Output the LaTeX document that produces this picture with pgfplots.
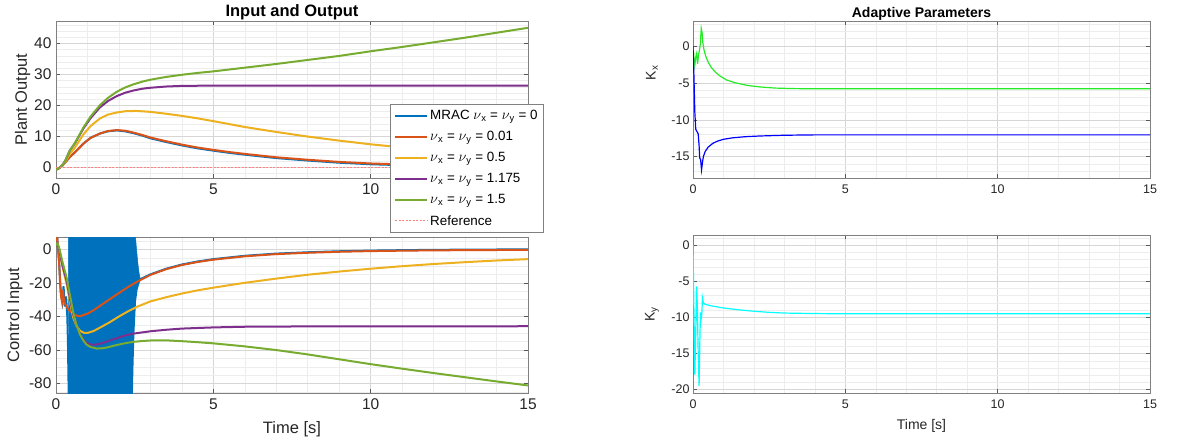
\documentclass[border=0pt]{standalone}
\usepackage{pgfplots}
\pgfplotsset{compat=1.18}
\usepackage{fontspec}
\setmainfont{Liberation Sans}
\definecolor{mblue}{rgb}{0,0.447,0.741}
\definecolor{morange}{rgb}{0.85,0.325,0.098}
\definecolor{myellow}{rgb}{0.929,0.694,0.125}
\definecolor{mpurple}{rgb}{0.494,0.184,0.556}
\definecolor{mgreen}{rgb}{0.466,0.674,0.188}
\definecolor{refred}{rgb}{1,0.5,0.5}
\definecolor{kgreen}{rgb}{0.15,0.92,0.15}
\definecolor{kblue}{rgb}{0,0,1}
\definecolor{kcyan}{rgb}{0,1,1}
\pgfplotsset{
  mstyle/.style={
    scale only axis, xmin=0, xmax=15,
    axis line style={black!50, line width=0.6pt},
    tick style={black!65, line width=0.5pt},
    major tick length=4pt, minor tick length=0pt, tick align=inside,
    grid=both,
    major grid style={black!16, line width=0.5pt},
    minor grid style={black!7, line width=0.5pt},
    xtick={0,5,10,15},
    minor xtick={1,2,3,4,6,7,8,9,11,12,13,14},
    /pgf/number format/assume math mode=true,
    ticklabel style={text=black!85},
    label style={text=black!85},
    every axis title shift=0pt,
  },
  leftstyle/.style={mstyle, width=472pt,
    ticklabel style={font=\fontsize{15.5}{17}\selectfont},
    xticklabel style={yshift=-2pt},
    yticklabel style={xshift=-1pt},
    label style={font=\fontsize{16.5}{18}\selectfont},
    every axis plot/.append style={line width=2pt},
  },
  rightstyle/.style={mstyle, width=457pt,
    ticklabel style={font=\fontsize{12.5}{14}\selectfont},
    xticklabel style={yshift=-3pt},
    label style={font=\fontsize{14}{16}\selectfont},
    every axis plot/.append style={line width=1.2pt},
  },
}
\begin{document}
\begin{tikzpicture}[x=1pt,y=1pt]
\useasboundingbox (0,0) rectangle (1182,445);

% ---------------- top left: plant output
\begin{axis}[leftstyle, at={(56pt,267pt)}, anchor=south west, height=157pt,
  ymin=-3.5, ymax=47.3, ytick={0,10,20,30,40},
  minor ytick={-2,2,4,6,8,12,14,16,18,22,24,26,28,32,34,36,38,42,44,46},
  title={Input and Output},
  title style={font=\bfseries\fontsize{16.5}{18}\selectfont, at={(0.5,1)}, anchor=base, yshift=4.3pt},
  ylabel={Plant Output},
  ylabel style={at={(axis description cs:-0.071,0.5)}, anchor=center},
  legend style={at={(0.7076,0.471)}, anchor=north west, draw=black!50, fill=white,
    line width=0.5pt, font=\fontsize{13.4}{15}\selectfont, row sep=6.2pt,
    inner xsep=4pt, inner ysep=4pt},
  legend cell align=left,
  legend image code/.code={\draw[#1] (0pt,0pt) -- (32pt,0pt);},
]
\addplot[mblue] coordinates {(0,-0.8) (0.1,-0.3) (0.2,0.5) (0.3,1.6) (0.44,3.3) (0.6,4.8) (0.87,7.6) (1.1,9.5) (1.4,10.9) (1.65,11.6) (1.93,11.9) (2.2,11.6) (2.46,11.0) (2.75,10.2) (3.0,9.35) (3.5,8.15) (4.0,7.05) (4.5,6.1) (5,5.35) (5.5,4.65) (6,4.05) (7,2.95) (8,2.15) (9,1.45) (10,0.95) (11,0.65) (12,0.45) (13,0.3) (14,0.2) (15,0.1)};
\addlegendentry{MRAC $\nu$\textsubscript{x} = $\nu$\textsubscript{y} = 0}
\addplot[morange] coordinates {(0,-0.8) (0.1,-0.3) (0.2,0.5) (0.3,1.6) (0.44,3.3) (0.6,4.8) (0.87,7.6) (1.1,9.5) (1.4,10.9) (1.65,11.7) (1.93,12.0) (2.2,11.8) (2.46,11.2) (2.75,10.4) (3.0,9.6) (3.5,8.4) (4.0,7.3) (4.5,6.35) (5,5.6) (5.5,4.9) (6,4.3) (7,3.2) (8,2.4) (9,1.7) (10,1.2) (11,0.9) (12,0.65) (13,0.5) (14,0.37) (15,0.27)};
\addlegendentry{$\nu$\textsubscript{x} = $\nu$\textsubscript{y} = 0.01}
\addplot[myellow] coordinates {(0,-0.8) (0.1,-0.3) (0.2,0.5) (0.3,1.8) (0.44,4.3) (0.6,6.3) (0.87,10.6) (1.1,13.3) (1.4,15.8) (1.65,17.0) (1.93,17.7) (2.2,18.1) (2.56,18.2) (3.0,17.9) (3.5,17.3) (4.0,16.6) (4.5,15.8) (5,14.9) (6,13.0) (7,11.4) (8,9.9) (9,8.6) (10,7.4) (11,6.4) (12,5.6) (13,4.9) (14,4.2) (15,3.7)};
\addlegendentry{$\nu$\textsubscript{x} = $\nu$\textsubscript{y} = 0.5}
\addplot[mpurple] coordinates {(0,-0.8) (0.1,-0.3) (0.2,0.6) (0.3,2.2) (0.44,5.4) (0.6,7.7) (0.87,12.5) (1.1,15.9) (1.4,19.4) (1.65,21.4) (1.93,23.0) (2.2,24.1) (2.46,24.8) (2.75,25.4) (3.0,25.7) (3.5,26.1) (4.0,26.3) (5,26.4) (15,26.4)};
\addlegendentry{$\nu$\textsubscript{x} = $\nu$\textsubscript{y} = 1.175}
\addplot[mgreen] coordinates {(0,-0.8) (0.1,-0.3) (0.2,0.6) (0.3,2.2) (0.44,5.4) (0.6,7.8) (0.87,12.8) (1.1,16.4) (1.4,20.1) (1.65,22.4) (1.93,24.4) (2.2,25.8) (2.46,26.8) (2.75,27.7) (3.0,28.3) (3.5,29.2) (4.0,29.9) (4.5,30.5) (5,31.0) (6,32.2) (7,33.4) (8,34.7) (9,36.0) (10,37.5) (11,38.9) (12,40.4) (13,41.9) (14,43.5) (15,45.1)};
\addlegendentry{$\nu$\textsubscript{x} = $\nu$\textsubscript{y} = 1.5}
\addplot[refred, line width=1pt, dash pattern=on 2pt off 1.5pt] coordinates {(0,0) (15,0)};
\addlegendentry{Reference}
\end{axis}

% ---------------- bottom left: control input
\begin{axis}[leftstyle, at={(56pt,52pt)}, anchor=south west, height=156pt,
  ymin=-85.6, ymax=7.4, ytick={-80,-60,-40,-20,0},
  minor ytick={-85,-75,-70,-65,-55,-50,-45,-35,-30,-25,-15,-10,-5,5},
  xlabel={Time [s]},
  xlabel style={at={(axis description cs:0.5,0)}, anchor=base, yshift=-40.3pt},
  ylabel={Control Input},
  ylabel style={at={(axis description cs:-0.087,0.5)}, anchor=center},
]
\addplot[fill=mblue, draw=mblue, line width=0.5pt] coordinates {(0.39,12) (2.51,12) (2.55,2) (2.6,-8) (2.64,-14) (2.67,-17) (2.62,-20) (2.56,-24) (2.51,-31) (2.46,-50) (2.43,-70) (2.40,-95) (0.42,-95) (0.41,-60) (0.40,-30)} -- cycle;
\addplot[mblue] coordinates {(0,5) (0.03,9) (0.06,2) (0.1,-8) (0.15,-25) (0.2,-31) (0.24,-22) (0.28,-34) (0.32,-28) (0.36,-40) (0.38,-56) (0.41,-95) (2.40,-95) (2.43,-70) (2.46,-50) (2.51,-31) (2.56,-24) (2.62,-20) (2.67,-17.8) (3.0,-14.9) (3.5,-11.5) (4.0,-9.0) (4.5,-7.2) (5,-5.8) (6,-3.8) (7,-2.5) (8,-1.7) (9,-1.1) (10,-0.7) (11,-0.45) (12,-0.25) (13,-0.15) (14,-0.05) (15,0)};
\addplot[morange] coordinates {(0,5) (0.03,9) (0.06,2) (0.1,-8) (0.13,-20) (0.16,-28) (0.19,-31) (0.22,-24) (0.25,-30) (0.3,-33) (0.4,-36) (0.55,-38.5) (0.7,-39.8) (0.8,-39.6) (1.0,-38.3) (1.2,-36.2) (1.4,-33.6) (1.7,-29.8) (2.0,-26.0) (2.3,-22.3) (2.6,-19.0) (3.0,-15.2) (3.5,-11.8) (4.0,-9.3) (4.5,-7.5) (5,-6.1) (6,-4.1) (7,-2.8) (8,-2.0) (9,-1.4) (10,-1.0) (11,-0.75) (12,-0.55) (13,-0.45) (14,-0.35) (15,-0.3)};
\addplot[myellow] coordinates {(0,2) (0.05,3) (0.1,0) (0.2,-10) (0.34,-21) (0.45,-32) (0.55,-40.8) (0.65,-45.5) (0.76,-48.5) (0.9,-49.8) (1.0,-49.8) (1.2,-48.6) (1.4,-46.6) (1.7,-43.5) (2.0,-40.0) (2.3,-36.8) (2.6,-34.0) (3.0,-31.0) (3.5,-28.5) (4.0,-26.3) (4.5,-24.4) (5,-22.8) (6,-19.9) (7,-17.4) (8,-15.1) (9,-13.2) (10,-11.5) (11,-10.0) (12,-8.7) (13,-7.6) (14,-6.6) (15,-5.8)};
\addplot[mpurple] coordinates {(0,2) (0.05,3) (0.1,0) (0.2,-9) (0.34,-19) (0.45,-30) (0.55,-38.8) (0.65,-45) (0.76,-50.5) (0.87,-53.8) (0.97,-55.7) (1.1,-56.6) (1.2,-56.8) (1.4,-56.3) (1.6,-55.0) (1.93,-52.9) (2.2,-51.3) (2.46,-50.2) (3.0,-48.8) (3.5,-47.9) (4.0,-47.2) (5,-46.5) (6,-46.1) (8,-45.9) (15,-45.8)};
\addplot[mgreen] coordinates {(0,2.5) (0.05,3.5) (0.1,1) (0.2,-7) (0.34,-17) (0.45,-28) (0.55,-37.8) (0.65,-45) (0.76,-50.7) (0.87,-54.3) (0.97,-56.7) (1.1,-58.2) (1.29,-59.1) (1.45,-59.0) (1.61,-58.5) (1.93,-57.0) (2.2,-55.9) (2.46,-55.1) (2.75,-54.6) (3.0,-54.3) (3.3,-54.2) (3.6,-54.3) (4.0,-54.7) (4.5,-55.3) (5,-56.0) (5.5,-56.9) (6,-57.8) (7,-60.0) (8,-62.6) (9,-65.5) (10,-68.4) (11,-71.1) (12,-73.7) (13,-76.2) (14,-78.7) (15,-81.1)};
\end{axis}

% ---------------- top right: Kx
\begin{axis}[rightstyle, at={(693pt,267pt)}, anchor=south west, height=157pt,
  ymin=-17.9, ymax=3.4, ytick={-15,-10,-5,0},
  minor ytick={-17,-16,-14,-13,-12,-11,-9,-8,-7,-6,-4,-3,-2,-1,1,2,3},
  title={Adaptive Parameters},
  title style={font=\bfseries\fontsize{14}{16}\selectfont, at={(0.5,1)}, anchor=base, yshift=3.5pt},
  ylabel={K\textsubscript{x}},
  ylabel style={at={(axis description cs:-0.09,0.67)}, anchor=center},
]
\addplot[kgreen] coordinates {(0,0) (0.03,-1.5) (0.06,-2.6) (0.09,-1.5) (0.12,-1.0) (0.15,-2.4) (0.18,-1.2) (0.21,-0.6) (0.24,0.2) (0.27,2.4) (0.3,1.8) (0.32,0.5) (0.36,-0.5) (0.42,-1.4) (0.5,-2.2) (0.6,-2.9) (0.75,-3.6) (0.9,-4.1) (1.1,-4.6) (1.4,-5.0) (1.8,-5.35) (2.2,-5.55) (2.7,-5.7) (3.3,-5.77) (4,-5.8) (15,-5.8)};
\addplot[kblue] coordinates {(0,0) (0.03,-4) (0.06,-9) (0.09,-11.3) (0.13,-11.6) (0.17,-11.9) (0.2,-13.5) (0.22,-15.2) (0.25,-15.4) (0.28,-16.8) (0.31,-15.8) (0.34,-15.0) (0.4,-14.3) (0.5,-13.7) (0.65,-13.2) (0.8,-12.9) (1.0,-12.65) (1.3,-12.45) (1.7,-12.3) (2.2,-12.2) (3,-12.1) (4,-12.05) (15,-12.05)};
\end{axis}

% ---------------- bottom right: Ky
\begin{axis}[rightstyle, at={(693pt,52pt)}, anchor=south west, height=158pt,
  ymin=-20.46, ymax=1.4, ytick={-20,-15,-10,-5,0},
  minor ytick={-19,-18,-17,-16,-14,-13,-12,-11,-9,-8,-7,-6,-4,-3,-2,-1,1},
  xlabel={Time [s]},
  xlabel style={at={(axis description cs:0.5,0)}, anchor=base, yshift=-36pt},
  ylabel={K\textsubscript{y}},
  ylabel style={at={(axis description cs:-0.09,0.5)}, anchor=center},
]
\addplot[kcyan] coordinates {(0,0) (0.03,-9) (0.06,-17.9) (0.09,-12) (0.12,-5.7) (0.14,-8) (0.17,-15) (0.2,-19.5) (0.23,-12) (0.25,-9.3) (0.27,-10.1) (0.29,-9.5) (0.31,-7.3) (0.34,-8.0) (0.4,-8.2) (0.6,-8.4) (1.0,-8.7) (1.5,-8.95) (2,-9.15) (2.5,-9.3) (3,-9.4) (4,-9.47) (5,-9.5) (15,-9.5)};
\end{axis}
\end{tikzpicture}
\end{document}
